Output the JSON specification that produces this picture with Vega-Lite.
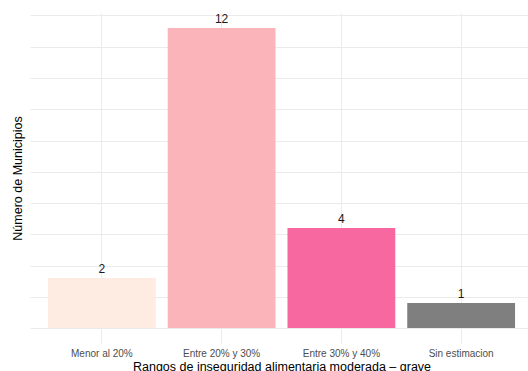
{
  "$schema": "https://vega.github.io/schema/vega-lite/v6.json",
  "autosize": "none",
  "padding": {"left": 30, "top": 13, "right": 0, "bottom": 28},
  "width": 503,
  "height": 330,
  "background": "white",
  "config": {
    "font": "Liberation Sans",
    "view": {"stroke": null}
  },
  "data": {
    "values": [
      {"rango": "Menor al 20%", "n": 2},
      {"rango": "Entre 20% y 30%", "n": 12},
      {"rango": "Entre 30% y 40%", "n": 4},
      {"rango": "Sin estimacion", "n": 1}
    ]
  },
  "encoding": {
    "x": {
      "field": "rango",
      "type": "nominal",
      "sort": null,
      "scale": {"paddingInner": 0.1, "paddingOuter": 0.15},
      "axis": {
        "title": "Rangos de inseguridad alimentaria moderada – grave",
        "titleFontSize": 12.5,
        "titleFontWeight": "normal",
        "titleColor": "#000000",
        "titlePadding": 2,
        "labelAngle": 0,
        "labelFontSize": 10,
        "labelColor": "#4D4D4D",
        "labelPadding": 5,
        "ticks": false,
        "domain": false,
        "grid": true,
        "gridColor": "#EBEBEB",
        "gridWidth": 1,
        "bandPosition": 0.5
      }
    },
    "y": {
      "field": "n",
      "type": "quantitative",
      "scale": {"domain": [-0.6, 12.6], "nice": false, "zero": false},
      "axis": {
        "title": "Número de Municipios",
        "titleFontSize": 12.5,
        "titleFontWeight": "normal",
        "titleColor": "#000000",
        "titleX": -12.5,
        "titleY": 165,
        "titleAngle": -90,
        "titleBaseline": "middle",
        "titleAlign": "center",
        "labels": false,
        "ticks": false,
        "domain": false,
        "grid": true,
        "gridColor": "#EBEBEB",
        "gridWidth": 1,
        "values": [0, 1.25, 2.5, 3.75, 5, 6.25, 7.5, 8.75, 10, 11.25, 12.5]
      }
    }
  },
  "layer": [
    {
      "mark": {"type": "bar", "y2": {"expr": "scale('y', 0)"}},
      "encoding": {
        "color": {
          "field": "rango",
          "type": "nominal",
          "scale": {
            "domain": ["Menor al 20%", "Entre 20% y 30%", "Entre 30% y 40%", "Sin estimacion"],
            "range": ["#FEEBE2", "#FBB4B9", "#F768A1", "#7F7F7F"]
          },
          "legend": null
        }
      }
    },
    {
      "mark": {"type": "text", "baseline": "alphabetic", "dy": -5, "fontSize": 12, "color": "#1A1A1A"},
      "encoding": {
        "text": {"field": "n", "type": "quantitative"}
      }
    }
  ]
}
